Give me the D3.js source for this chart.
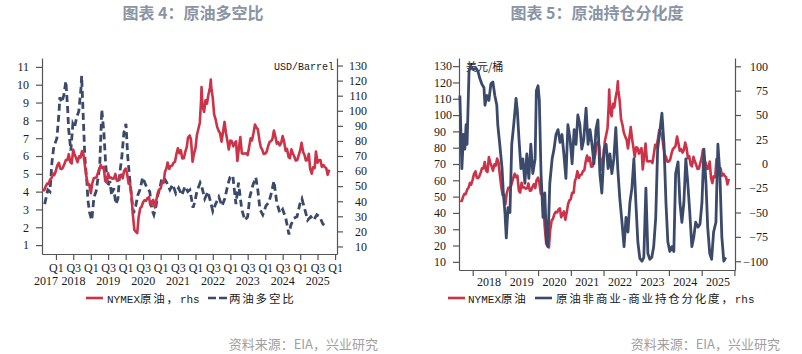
<!DOCTYPE html>
<html>
<head>
<meta charset="utf-8">
<script src="https://cdn.jsdelivr.net/npm/d3@7"></script>
<style>
body { margin: 0; background: #fff; }
svg { display: block; }
</style>
</head>
<body>
<svg></svg>
<script>
// NYMEX WTI, USD/barrel (semi-monthly readings)
let wtiDates = ["2017-08-15","2017-09-01","2017-09-15","2017-10-01","2017-10-15","2017-11-01","2017-11-15","2017-12-01","2017-12-15",
  "2018-01-01","2018-01-15","2018-02-01","2018-02-15","2018-03-01","2018-03-15","2018-04-01","2018-04-15","2018-05-01","2018-05-15","2018-06-01","2018-06-15","2018-07-01","2018-07-15","2018-08-01","2018-08-15","2018-09-01","2018-09-15","2018-10-01","2018-10-15","2018-11-01","2018-11-15","2018-12-01","2018-12-15",
  "2019-01-01","2019-01-15","2019-02-01","2019-02-15","2019-03-01","2019-03-15","2019-04-01","2019-04-15","2019-05-01","2019-05-15","2019-06-01","2019-06-15","2019-07-01","2019-07-15","2019-08-01","2019-08-15","2019-09-01","2019-09-15","2019-10-01","2019-10-15","2019-11-01","2019-11-15","2019-12-01","2019-12-15",
  "2020-01-01","2020-01-15","2020-02-01","2020-02-15","2020-03-01","2020-03-15","2020-04-01","2020-04-15","2020-05-01","2020-05-15","2020-06-01","2020-06-15","2020-07-01","2020-07-15","2020-08-01","2020-08-15","2020-09-01","2020-09-15","2020-10-01","2020-10-15","2020-11-01","2020-11-15","2020-12-01","2020-12-15",
  "2021-01-01","2021-01-15","2021-02-01","2021-02-15","2021-03-01","2021-03-15","2021-04-01","2021-04-15","2021-05-01","2021-05-15","2021-06-01","2021-06-15","2021-07-01","2021-07-15","2021-08-01","2021-08-15","2021-09-01","2021-09-15","2021-10-01","2021-10-15","2021-11-01","2021-11-15","2021-12-01","2021-12-15",
  "2022-01-01","2022-01-15","2022-02-01","2022-02-15","2022-03-01","2022-03-05","2022-03-15","2022-04-01","2022-04-15","2022-05-01","2022-05-15","2022-06-01","2022-06-10","2022-06-15","2022-07-01","2022-07-15","2022-08-01","2022-08-15","2022-09-01","2022-09-15","2022-10-01","2022-10-15","2022-11-01","2022-11-15","2022-12-01","2022-12-15",
  "2023-01-01","2023-01-15","2023-02-01","2023-02-15","2023-03-01","2023-03-15","2023-04-01","2023-04-15","2023-05-01","2023-05-15","2023-06-01","2023-06-15","2023-07-01","2023-07-15","2023-08-01","2023-08-15","2023-09-01","2023-09-15","2023-10-01","2023-10-15","2023-11-01","2023-11-15","2023-12-01","2023-12-15",
  "2024-01-01","2024-01-15","2024-02-01","2024-02-15","2024-03-01","2024-03-15","2024-04-01","2024-04-15","2024-05-01","2024-05-15","2024-06-01","2024-06-15","2024-07-01","2024-07-15","2024-08-01","2024-08-15","2024-09-01","2024-09-15","2024-10-01","2024-10-15","2024-11-01","2024-11-15","2024-12-01","2024-12-15",
  "2025-01-01","2025-01-15","2025-02-01","2025-02-15","2025-03-01","2025-03-15","2025-04-01","2025-04-15","2025-05-01","2025-05-15","2025-06-01","2025-06-15","2025-07-01","2025-07-15","2025-08-01","2025-08-15","2025-09-01","2025-09-15","2025-10-01","2025-10-15","2025-11-01"]
let wtiValues = [47.5,47.3,49.9,51.7,51.5,54.5,55.3,58.4,57.3,
  60.4,63.8,65.5,61.7,61.3,62.3,64.9,67.4,67.3,71.2,65.8,65.1,74.2,71.0,68.5,65.9,69.8,68.9,73.3,71.3,63.1,56.5,50.9,51.2,
  45.3,51.6,55.3,55.6,55.8,58.5,61.6,64.0,61.9,62.8,53.5,52.5,58.5,55.6,55.7,54.9,55.1,58.1,53.6,53.8,56.2,57.7,55.2,60.1,
  61.7,58.5,51.6,52.1,44.8,31.7,21.0,19.9,18.8,29.4,35.4,36.3,39.3,40.6,40.3,42.0,42.8,37.3,39.2,40.9,35.8,40.1,45.3,47.6,
  48.5,52.4,52.2,59.5,61.5,65.6,61.5,63.2,63.6,65.4,66.3,71.3,75.2,71.8,73.9,68.4,68.5,72.6,75.9,82.3,83.6,80.8,66.2,71.3,
  75.2,83.8,88.2,92.1,107.7,115.7,103.0,99.3,106.9,104.7,110.5,115.3,120.7,115.3,108.4,97.6,93.9,89.4,86.6,85.1,79.5,85.6,92.6,85.6,80.0,74.3,
  80.3,79.9,76.4,78.5,79.7,66.7,75.7,82.5,71.7,71.6,71.7,71.8,70.6,75.4,81.8,80.3,85.6,90.8,88.8,87.7,80.5,75.9,74.1,71.4,
  71.6,72.7,76.8,79.2,79.9,81.0,86.9,83.1,78.1,79.2,77.0,78.5,83.2,80.1,73.5,74.8,69.3,68.6,74.4,71.8,69.5,67.0,67.2,70.3,
  73.9,78.8,72.5,70.7,67.0,67.2,71.5,61.5,58.3,62.5,62.0,73.0,65.5,67.3,67.3,62.8,64.0,62.7,61.9,57.5,60.9]

// 两油多空比
let ratioDates = ["2017-09-05","2017-10-08","2017-10-30","2017-11-21","2017-12-09",
  "2018-01-11","2018-02-03","2018-02-10","2018-03-02","2018-03-24","2018-04-15","2018-05-03","2018-05-14","2018-06-06","2018-06-27","2018-07-15","2018-08-07","2018-08-28","2018-09-20","2018-09-27","2018-10-19","2018-10-30","2018-11-21","2018-12-02","2018-12-20",
  "2019-01-11","2019-02-03","2019-02-25","2019-03-13","2019-04-04","2019-04-15","2019-04-26","2019-05-18","2019-06-06","2019-06-27","2019-07-19","2019-08-07","2019-08-28","2019-09-20","2019-10-12","2019-10-30","2019-11-21","2019-12-13",
  "2020-01-04","2020-01-22","2020-02-14","2020-03-06","2020-03-24","2020-04-15","2020-05-07","2020-05-29","2020-06-27","2020-07-19","2020-08-11","2020-09-09","2020-10-01","2020-10-22","2020-11-14","2020-12-02","2020-12-24",
  "2021-01-15","2021-02-14","2021-03-06","2021-04-08","2021-05-07","2021-06-09","2021-07-08","2021-08-11","2021-09-13","2021-10-12","2021-11-03","2021-12-06","2021-12-24",
  "2022-01-15","2022-02-18","2022-03-06","2022-04-08","2022-05-11","2022-06-09","2022-07-01","2022-07-30","2022-09-02","2022-10-05","2022-11-03","2022-12-06","2022-12-28",
  "2023-01-26","2023-02-28","2023-03-27","2023-04-30","2023-06-02","2023-07-01","2023-07-23","2023-08-21","2023-09-24","2023-10-15","2023-11-07","2023-12-06",
  "2024-01-08","2024-02-07","2024-03-09","2024-04-01","2024-04-30","2024-06-02","2024-07-01","2024-08-03","2024-09-05","2024-09-24","2024-10-26","2024-11-29","2024-12-28",
  "2025-01-19","2025-02-18","2025-03-20","2025-04-22","2025-05-21","2025-06-24","2025-07-23","2025-08-25","2025-09-27"]
let ratioValues = [3.3,4.1,4.0,5.7,6.5,
  7.0,8.5,9.3,9.0,9.4,10.2,8.7,7.5,6.3,7.8,7.6,8.2,8.5,9.8,10.5,7.5,6.0,4.5,3.5,2.8,
  2.4,3.7,4.0,4.6,5.4,7.0,8.6,7.3,5.5,4.3,4.6,3.8,4.2,3.3,3.6,5.0,5.9,7.3,
  7.8,6.0,4.6,3.5,2.8,3.2,3.8,4.1,4.8,4.5,4.2,4.0,3.0,2.7,3.2,3.8,4.2,
  4.8,4.7,4.5,4.1,4.4,3.9,4.2,3.8,4.3,4.0,4.1,3.1,3.4,
  4.0,4.5,4.3,3.6,4.0,3.4,2.9,3.3,3.7,3.2,3.6,4.4,4.8,
  4.9,3.3,4.5,3.0,2.4,2.6,3.7,4.3,4.8,4.1,3.0,2.7,
  3.2,3.4,4.0,4.6,3.4,2.8,3.0,2.5,1.6,2.1,2.5,2.6,3.3,
  3.6,3.0,2.4,2.6,2.4,2.7,2.6,2.2,2.0]

// 原油非商业-商业持仓分化度
let spreadDates = ["2017-08-11","2017-09-02","2017-09-20","2017-10-05","2017-10-19","2017-10-30","2017-11-21","2017-12-06",
  "2018-01-04","2018-02-07","2018-02-28","2018-03-20","2018-04-12","2018-05-07","2018-05-18","2018-06-09","2018-07-01","2018-07-23","2018-08-14","2018-09-05","2018-09-27","2018-10-08","2018-10-30","2018-11-25","2018-12-09","2018-12-27",
  "2019-01-11","2019-01-30","2019-02-21","2019-03-13","2019-04-04","2019-04-30","2019-05-14","2019-06-02","2019-06-24","2019-07-15","2019-08-07","2019-08-28","2019-09-20","2019-10-12","2019-11-03","2019-11-29","2019-12-13",
  "2020-01-01","2020-01-15","2020-02-03","2020-02-25","2020-03-16","2020-04-04","2020-04-19","2020-05-11","2020-06-06","2020-06-27","2020-07-19","2020-08-11","2020-09-02","2020-09-24","2020-10-15","2020-11-07","2020-11-29","2020-12-24",
  "2021-01-15","2021-02-07","2021-02-28","2021-03-20","2021-04-12","2021-05-03","2021-05-25","2021-06-20","2021-07-12","2021-08-03","2021-08-25","2021-09-16","2021-10-08","2021-10-30","2021-11-21","2021-12-13",
  "2022-01-08","2022-01-30","2022-02-21","2022-03-13","2022-04-04","2022-04-26","2022-05-18","2022-06-09","2022-07-01","2022-07-26","2022-08-18","2022-09-09","2022-10-01","2022-10-22","2022-11-14","2022-12-06","2022-12-28",
  "2023-01-19","2023-02-10","2023-03-06","2023-03-27","2023-04-19","2023-05-11","2023-06-02","2023-06-24","2023-07-15","2023-08-07","2023-08-28","2023-09-24","2023-10-15","2023-11-07","2023-11-29","2023-12-20",
  "2024-01-11","2024-02-03","2024-02-25","2024-03-16","2024-04-12","2024-05-03","2024-05-25","2024-06-16","2024-07-08","2024-07-30","2024-08-21","2024-09-13","2024-10-05","2024-10-26","2024-11-21","2024-12-13",
  "2025-01-04","2025-01-26","2025-02-18","2025-03-09","2025-04-01","2025-04-22","2025-05-14","2025-06-09","2025-07-01","2025-07-23","2025-08-14","2025-09-05","2025-09-27"]
let spreadValues = [70,-5,30,15,40,20,95,100,
  97,98,95,88,82,78,60,70,65,82,84,70,60,40,20,-5,-30,-50,
  -76,-45,-50,20,40,67,55,25,-5,5,-20,10,-15,20,-10,5,75,
  80,65,-10,-55,-30,-80,-85,-20,5,15,30,35,22,30,10,-15,40,25,
  0,35,20,50,40,15,25,57,20,35,20,0,35,45,-10,-30,
  15,20,-5,10,-10,5,37,-5,-35,-60,-85,-55,-70,-40,-25,5,-40,
  -80,-97,-100,-96,-25,-92,-98,-96,-85,-55,15,35,52,20,-40,-80,
  -90,-85,-90,-10,2,-40,-60,-40,5,-20,-50,-85,-75,-60,-65,-62,
  -40,15,-20,-65,-92,-98,-70,-60,20,-10,-75,-100,-96]

let quarterTicks = ["Q1","Q3"]
let leftTicks = [1,2,3,4,5,6,7,8,9,10,11]
let priceTicks = [10,20,30,40,50,60,70,80,90,100,110,120,130]
let spreadTicks = [-100,-75,-50,-25,0,25,50,75,100]
let yearLabels = [2017,2018,2019,2020,2021,2022,2023,2024,2025]

let red = "#cc3349"
let navy = "#3b4a6a"
let axisColor = "#555"
let numFont = "'Liberation Serif', 'Times New Roman', serif"
let monoFont = "'Liberation Mono', 'DejaVu Sans Mono', 'Noto Sans CJK SC', monospace"
let cjkFont = "'Noto Sans CJK SC', sans-serif"

let parse = d3.timeParse("%Y-%m-%d")
let wti = wtiDates.map((d, i) => ({ date: parse(d), value: wtiValues[i] }))
let ratio = ratioDates.map((d, i) => ({ date: parse(d), value: ratioValues[i] }))
let spread = spreadDates.map((d, i) => ({ date: parse(d), value: spreadValues[i] }))

let width = 802
let height = 354
let svg = d3.select("svg").attr("width", width).attr("height", height)
svg.append("rect").attr("width", width).attr("height", height).attr("fill", "#fff")

let styleAxis = (g) => {
    g.selectAll("path.domain").attr("stroke", axisColor).attr("stroke-width", 1.2)
    g.selectAll(".tick line").attr("stroke", axisColor).attr("stroke-width", 1.2)
    g.selectAll("text").attr("font-family", numFont).attr("font-size", 12).attr("fill", "#1a1a1a")
}

let addTitle = (x, label) => {
    svg.append("text").attr("x", x).attr("y", 19).attr("text-anchor", "middle")
        .attr("font-family", cjkFont).attr("font-weight", "bold").attr("font-size", 16)
        .attr("fill", "#8a94a4").text(label)
}

let addSource = (x) => {
    svg.append("text").attr("x", x).attr("y", 349).attr("text-anchor", "end")
        .attr("font-family", cjkFont).attr("font-size", 13)
        .attr("fill", "#a0a0a0").text("资料来源：EIA，兴业研究")
}

let legendText = (x, parts) => {
    let t = svg.append("text").attr("x", x).attr("y", 302.5).attr("fill", "#1a1a1a")
    parts.forEach(p => {
        t.append("tspan").attr("font-family", p[1] ? cjkFont : monoFont)
            .attr("font-size", p[1] ? 11.5 : 11)
            .attr("letter-spacing", p[1] ? 1.8 : 0)
            .text(p[0])
    })
}

// ---------- 图表 4 ----------
let x4 = d3.scaleTime().domain([new Date(2017, 7, 8), new Date(2026, 0, 21)]).range([42, 337])
let y4l = d3.scaleLinear().domain([0.5, 11.5]).range([254, 58])
let y4r = d3.scaleLinear().domain([5, 135]).range([254, 58])

addTitle(193, "图表 4：原油多空比")

let g4l = svg.append("g").attr("transform", "translate(42,0)")
    .call(d3.axisLeft(y4l).tickValues(leftTicks).tickSize(6).tickSizeOuter(0).tickPadding(7))
styleAxis(g4l)

let g4r = svg.append("g").attr("transform", "translate(337,0)")
    .call(d3.axisRight(y4r).tickValues(priceTicks).tickSize(6).tickSizeOuter(0))
styleAxis(g4r)
g4r.selectAll("text").attr("text-anchor", "end").attr("x", 30)

let halfYears = d3.timeMonth.every(6).range(new Date(2018, 0, 1), new Date(2026, 0, 2))
let g4b = svg.append("g").attr("transform", "translate(0,254)")
    .call(d3.axisBottom(x4).tickValues(halfYears).tickSize(6).tickSizeOuter(0).tickPadding(3)
        .tickFormat((d) => quarterTicks[d.getMonth() === 0 ? 0 : 1]))
styleAxis(g4b)

yearLabels.forEach(yr => {
    let a = Math.max(x4(new Date(yr, 0, 1)), x4.range()[0] - 6)
    let b = x4(new Date(yr + 1, 0, 1))
    svg.append("text").attr("x", (a + b) / 2).attr("y", 285).attr("text-anchor", "middle")
        .attr("font-family", numFont).attr("font-size", 12).attr("fill", "#1a1a1a").text(yr)
})

svg.append("path").datum(ratio)
    .attr("d", d3.line().x(d => x4(d.date)).y(d => y4l(d.value)))
    .attr("fill", "none").attr("stroke", navy).attr("stroke-width", 2.8)
    .attr("stroke-dasharray", "7,4")

svg.append("path").datum(wti)
    .attr("d", d3.line().x(d => x4(d.date)).y(d => y4r(d.value)))
    .attr("fill", "none").attr("stroke", red).attr("stroke-width", 2.6).attr("stroke-linejoin", "round")

svg.append("text").attr("x", 334).attr("y", 70).attr("text-anchor", "end")
    .attr("font-family", monoFont).attr("font-size", 10).attr("fill", "#1a1a1a").text("USD/Barrel")

svg.append("line").attr("x1", 86).attr("x2", 103).attr("y1", 298).attr("y2", 298)
    .attr("stroke", red).attr("stroke-width", 2.6)
legendText(107, [["NYMEX", false], ["原油，", true], ["rhs", false]])
svg.append("line").attr("x1", 208).attr("x2", 227).attr("y1", 298).attr("y2", 298)
    .attr("stroke", navy).attr("stroke-width", 2.6).attr("stroke-dasharray", "8,3")
legendText(229, [["两油多空比", true]])

addSource(378)

// ---------- 图表 5 ----------
let x5 = d3.scaleTime().domain([new Date(2017, 7, 1), new Date(2026, 0, 8)]).range([459, 735])
let y5l = d3.scaleLinear().domain([5, 135]).range([270, 58])
let y5r = d3.scaleLinear().domain([-109, 108.5]).range([270, 58])

addTitle(597, "图表 5：原油持仓分化度")

let g5l = svg.append("g").attr("transform", "translate(459,0)")
    .call(d3.axisLeft(y5l).tickValues(priceTicks).tickSize(6).tickSizeOuter(0))
styleAxis(g5l)
g5l.selectAll("text").attr("text-anchor", "start").attr("x", -25)

let g5r = svg.append("g").attr("transform", "translate(735,0)")
    .call(d3.axisRight(y5r).tickValues(spreadTicks).tickSize(6).tickSizeOuter(0))
styleAxis(g5r)
g5r.selectAll("text").attr("text-anchor", "end").attr("x", 33)

let yearStarts = d3.timeYear.range(new Date(2018, 0, 1), new Date(2026, 0, 2))
let g5b = svg.append("g").attr("transform", "translate(0,270)")
    .call(d3.axisBottom(x5).tickValues(yearStarts).tickSize(6).tickSizeOuter(0).tickFormat(""))
styleAxis(g5b)

yearLabels.slice(1).forEach(yr => {
    let a = x5(new Date(yr, 0, 1))
    let b = x5(new Date(yr + 1, 0, 1))
    svg.append("text").attr("x", (a + b) / 2).attr("y", 285.5).attr("text-anchor", "middle")
        .attr("font-family", numFont).attr("font-size", 12).attr("fill", "#1a1a1a").text(yr)
})

svg.append("path").datum(wti)
    .attr("d", d3.line().x(d => x5(d.date)).y(d => y5l(d.value)))
    .attr("fill", "none").attr("stroke", red).attr("stroke-width", 2.6).attr("stroke-linejoin", "round")

svg.append("text").attr("x", 466).attr("y", 71)
    .attr("font-family", cjkFont).attr("font-size", 11).attr("fill", "#1a1a1a").text("美元/桶")

svg.append("path").datum(spread)
    .attr("d", d3.line().x(d => x5(d.date)).y(d => y5r(d.value)))
    .attr("fill", "none").attr("stroke", navy).attr("stroke-width", 2.8).attr("stroke-linejoin", "round")

svg.append("line").attr("x1", 448).attr("x2", 465).attr("y1", 298).attr("y2", 298)
    .attr("stroke", red).attr("stroke-width", 2.6)
legendText(468, [["NYMEX", false], ["原油", true]])
svg.append("line").attr("x1", 535).attr("x2", 552).attr("y1", 298).attr("y2", 298)
    .attr("stroke", navy).attr("stroke-width", 2.6)
legendText(556, [["原油非商业-商业持仓分化度，", true], ["rhs", false]])

addSource(780)
</script>
</body>
</html>
